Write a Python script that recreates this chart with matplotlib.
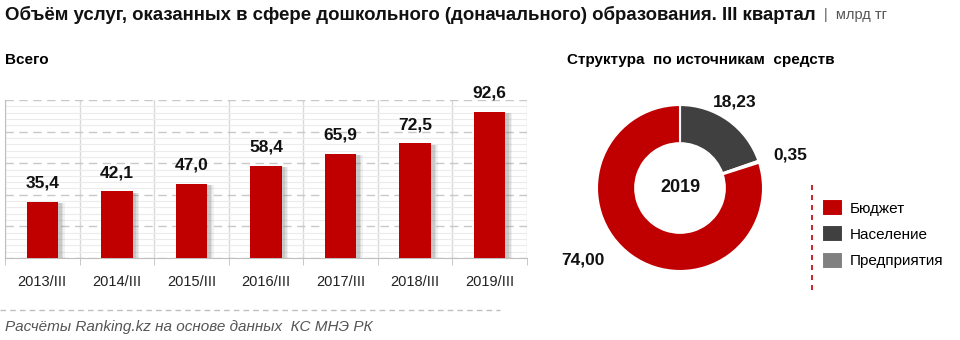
import matplotlib
matplotlib.use("Agg")
import matplotlib.pyplot as plt
from matplotlib import font_manager
from matplotlib.lines import Line2D
from matplotlib.ticker import MultipleLocator

names = {f.name for f in font_manager.fontManager.ttflist}
narrow = "Liberation Sans Narrow" if "Liberation Sans Narrow" in names else "Liberation Sans"
plt.rcParams["font.family"] = [narrow, "DejaVu Sans"]

# data
periods = ["2013/III", "2014/III", "2015/III", "2016/III", "2017/III", "2018/III", "2019/III"]
totals = [35.4, 42.1, 47.0, 58.4, 65.9, 72.5, 92.6]

sources = ["Население", "Предприятия", "Бюджет"]
source_vals = [18.23, 0.35, 74.00]
source_colors = ["#404040", "#808080", "#C00000"]
legend_order = ["Бюджет", "Население", "Предприятия"]

W, H = 960, 340
fig = plt.figure(figsize=(9.6, 3.4), dpi=100)

def fx(px):
    return px / W

def fy(py):
    return 1 - py / H

# titles
fig.text(fx(5), fy(15), "Объём услуг, оказанных в сфере дошкольного (доначального) образования. III квартал",
         fontsize=13.4, fontweight="bold", va="center", ha="left", color="#111111")
fig.text(fx(824), fy(15), "|  млрд тг", fontsize=10.5, va="center", ha="left", color="#555555")
fig.text(fx(5), fy(60), "Всего", fontsize=11, fontweight="bold", va="center")
fig.text(fx(567), fy(60), "Структура  по источникам  средств", fontsize=11, fontweight="bold", va="center")

# bar chart
ax = fig.add_axes([fx(5), fy(258), fx(527) - fx(5), fy(100) - fy(258)])
x = range(len(periods))
for dx, a in [(0.09, 0.10), (0.07, 0.15), (0.05, 0.2)]:
    ax.bar([i + dx for i in x], [v - 0.8 for v in totals], width=0.42, color="#777777",
           alpha=a, zorder=2, linewidth=0)
bars = ax.bar(x, totals, width=0.42, color="#C00000", zorder=3)
for b, v in zip(bars, totals):
    ax.annotate(f"{v:.1f}".replace(".", ","), (b.get_x() + b.get_width() / 2, v),
                xytext=(0, 8), textcoords="offset points", ha="center", va="bottom",
                fontsize=12.5, fontweight="bold", color="#111111")
ax.set_xlim(-0.5, len(periods) - 0.5)
ax.set_ylim(0, 100)
ax.yaxis.set_major_locator(MultipleLocator(20))
ax.yaxis.set_minor_locator(MultipleLocator(4))
ax.grid(axis="y", which="minor", color="#ececec", linewidth=0.8, zorder=0)
ax.grid(axis="y", which="major", color="#c8c8c8", linewidth=1.0, linestyle=(0, (6, 4)), zorder=1)
ax.set_yticklabels([])
ax.tick_params(axis="y", which="both", length=0)
ax.set_xticks(list(x))
ax.set_xticklabels(periods, fontsize=10.5, color="#222222")
ax.set_xticks([i - 0.5 for i in range(len(periods) + 1)], minor=True)
ax.tick_params(axis="x", which="major", length=0, pad=12)
ax.tick_params(axis="x", which="minor", length=5, color="#bfbfbf")
ax.grid(axis="x", which="minor", color="#d9d9d9", linewidth=1.0, zorder=1)
for s in ["top", "right"]:
    ax.spines[s].set_visible(False)
ax.spines["left"].set_color("#bfbfbf")
ax.spines["bottom"].set_color("#bfbfbf")

# donut
R = 83
ax2 = fig.add_axes([fx(680 - 90), fy(188 + 90), fx(180), fy(0) - fy(180)])
wedges, _ = ax2.pie(source_vals, colors=source_colors, startangle=90, counterclock=False,
                    radius=1, wedgeprops=dict(width=0.46, edgecolor="white", linewidth=1.5))
ax2.set_xlim(-90 / R, 90 / R)
ax2.set_ylim(-90 / R, 90 / R)
ax2.set_aspect("equal")
ax2.axis("off")
ax2.text(0, 0, "2019", ha="center", va="center", fontsize=13, fontweight="bold", color="#111111")
label_pos = [(0.66, 1.04), (1.33, 0.40), (-1.17, -0.87)]
for (lx, ly), v in zip(label_pos, source_vals):
    ax2.text(lx, ly, f"{v:.2f}".replace(".", ","), ha="center", va="center",
             fontsize=12.5, fontweight="bold", color="#111111")

handles = [wedges[sources.index(n)] for n in legend_order]
fig.legend(handles, legend_order, loc="upper left", bbox_to_anchor=(fx(822), fy(199)),
           frameon=False, fontsize=11, handlelength=1.35, handleheight=1.35,
           labelspacing=0.6, handletextpad=0.45, borderaxespad=0, borderpad=0)
fig.add_artist(Line2D([fx(812), fx(812)], [fy(185), fy(292)], color="#C00000",
                      linestyle=(0, (3, 3)), linewidth=1.2))

# footer
fig.add_artist(Line2D([0, fx(500)], [fy(310), fy(310)], color="#bfbfbf",
                      linestyle=(0, (4, 3)), linewidth=1))
fig.text(fx(5), fy(327), "Расчёты Ranking.kz на основе данных  КС МНЭ РК", fontsize=11,
         style="italic", color="#555555", va="center")

fig.savefig("out.png", dpi=100)
